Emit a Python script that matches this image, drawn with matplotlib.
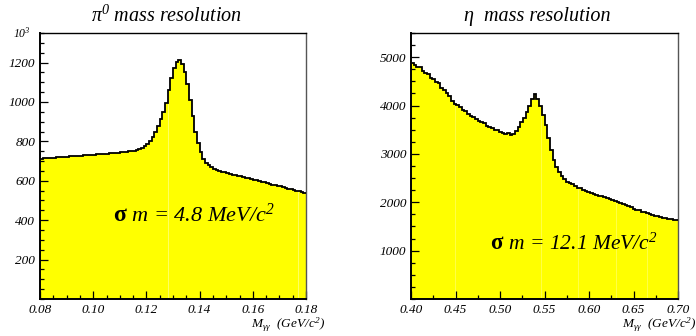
import numpy as np
import matplotlib
matplotlib.use("Agg")
import matplotlib.pyplot as plt
from matplotlib.ticker import MultipleLocator, FixedLocator

plt.rcParams['font.family'] = ['Liberation Serif', 'DejaVu Serif']
plt.rcParams['mathtext.fontset'] = 'custom'
plt.rcParams['mathtext.rm'] = 'Liberation Serif:italic'
plt.rcParams['mathtext.it'] = 'Liberation Serif:italic'

# ---- pi0 histogram (0.08 - 0.18 GeV, 100 bins) ----
pi0_edges_range = (0.08, 0.18)
pi0_counts = [
    713, 714, 715, 716, 717, 718, 719, 720, 721, 722,
    723, 724, 725, 726, 727, 728, 729, 730, 731, 732,
    733, 734, 735, 736, 737, 738, 739, 740, 741, 742,
    744, 745, 747, 749, 751, 753, 756, 760, 766, 774,
    785, 800, 820, 850, 880, 912, 950, 995, 1060, 1120,
    1170, 1205, 1215, 1195, 1150, 1090, 1010, 930, 850, 790,
    745, 712, 692, 678, 668, 661, 656, 652, 647, 643,
    639, 635, 631, 628, 625, 622, 619, 616, 612, 609,
    605, 602, 598, 595, 592, 588, 585, 581, 578, 574,
    571, 567, 564, 560, 557, 553, 550, 546, 543, 540,
]

# ---- eta histogram (0.40 - 0.70 GeV, 100 bins) ----
eta_edges_range = (0.40, 0.70)
eta_counts = [
    4880, 4840, 4800, 4790, 4720, 4680, 4650, 4560, 4540, 4490,
    4460, 4370, 4330, 4250, 4200, 4100, 4040, 4010, 3960, 3900,
    3880, 3830, 3790, 3760, 3720, 3690, 3650, 3640, 3580, 3560,
    3540, 3500, 3490, 3460, 3440, 3420, 3430, 3390, 3420, 3480,
    3560, 3650, 3740, 3860, 4000, 4140, 4230, 4130, 4000, 3800,
    3600, 3330, 3080, 2880, 2720, 2620, 2540, 2480, 2420, 2390,
    2370, 2340, 2300, 2290, 2260, 2230, 2220, 2190, 2170, 2160,
    2140, 2120, 2110, 2080, 2060, 2040, 2020, 2010, 1980, 1970,
    1950, 1920, 1900, 1870, 1850, 1830, 1800, 1790, 1770, 1750,
    1730, 1720, 1710, 1690, 1680, 1670, 1660, 1650, 1640, 1630,
]

pi0_title = "\u03c0$^{0}$ mass resolution"
eta_title = "\u03b7  mass resolution"
pi0_note = " m = 4.8 MeV/c$^2$"
eta_note = " m = 12.1 MeV/c$^2$"
sigma_sym = "\u03c3"
xlabel_text = "M$_{\u03b3\u03b3}$  (GeV/c$^2$)"

pi0_yticks = [200, 400, 600, 800, 1000, 1200]
eta_yticks = [1000, 2000, 3000, 4000, 5000]
pi0_xticks = [0.08, 0.10, 0.12, 0.14, 0.16, 0.18]
eta_xticks = [0.40, 0.45, 0.50, 0.55, 0.60, 0.65, 0.70]

fig = plt.figure(figsize=(6.96, 3.36), dpi=100)
W, H = 696, 336

def px_axes(l, r, t, b):
    return fig.add_axes([l / W, (H - b) / H, (r - l) / W, (b - t) / H])

ax1 = px_axes(40, 306, 33, 299)
ax2 = px_axes(411, 678, 33, 299)

def draw_hist(ax, counts, rng):
    n = len(counts)
    edges = np.linspace(rng[0], rng[1], n + 1)
    c = np.asarray(counts, dtype=float)
    ax.stairs(c, edges, fill=True, color='#ffff00', zorder=1)
    ax.stairs(c, edges, color='black', linewidth=1.3, zorder=3, baseline=None)
    return edges

draw_hist(ax1, pi0_counts, pi0_edges_range)
draw_hist(ax2, eta_counts, eta_edges_range)

# faint white rendering seams visible in the fill
for xv in [0.1281, 0.177]:
    ax1.axvline(xv, color='white', lw=0.5, alpha=0.55, zorder=2)
for xv in [0.449, 0.546, 0.588, 0.630, 0.665]:
    ax2.axvline(xv, color='white', lw=0.5, alpha=0.4, zorder=2)

ax1.set_xlim(*pi0_edges_range)
ax1.set_ylim(0, 1350)
ax2.set_xlim(*eta_edges_range)
ax2.set_ylim(0, 5500)

for ax, xt, yt, xminor, yminor in [
    (ax1, pi0_xticks, pi0_yticks, 0.005, 50),
    (ax2, eta_xticks, eta_yticks, 0.025, 250),
]:
    ax.xaxis.set_major_locator(FixedLocator(xt))
    ax.yaxis.set_major_locator(FixedLocator(yt))
    ax.xaxis.set_minor_locator(MultipleLocator(xminor))
    ax.yaxis.set_minor_locator(MultipleLocator(yminor))
    ax.tick_params(which='both', direction='in', top=False, right=False,
                   labelsize=9.5, width=0.9)
    ax.tick_params(which='major', length=6)
    ax.tick_params(which='minor', length=3)
    for s in ax.spines.values():
        s.set_linewidth(1.0)
    ax.spines['left'].set_linewidth(1.4)
    ax.spines['bottom'].set_linewidth(1.4)
    ax.spines['right'].set_color('#555555')

ax1.set_xticklabels([f"{v:.2f}" for v in pi0_xticks], fontstyle='italic')
ax1.set_yticklabels([str(v) for v in pi0_yticks], fontstyle='italic')
ax2.set_xticklabels([f"{v:.2f}" for v in eta_xticks], fontstyle='italic')
ax2.set_yticklabels([str(v) for v in eta_yticks], fontstyle='italic')

# titles
fig.text(166 / W, 1 - 16 / H, pi0_title, ha='center', va='center',
         fontsize=14.5, fontstyle='italic')
fig.text(537 / W, 1 - 16 / H, eta_title, ha='center', va='center',
         fontsize=14.5, fontstyle='italic')

# exponent label
fig.text(22 / W, 1 - 33 / H, "10$^3$", ha='center', va='center',
         fontsize=8.5, fontstyle='italic')

# annotations: upright sigma followed by italic text
def note(ax, x, y, txt, fs):
    t = ax.text(x, y, sigma_sym, ha='left', va='center', fontsize=fs + 1,
                fontweight='bold', zorder=5)
    ax.annotate(txt, xy=(1.0, 0.5), xycoords=t, ha='left', va='center',
                fontsize=fs, fontstyle='italic', zorder=5)

note(ax1, 0.1074, 423, pi0_note, 16)
note(ax2, 0.489, 1142, eta_note, 15.5)

# x labels
fig.text(325 / W, 1 - 325 / H, xlabel_text, ha='right', va='center',
         fontsize=9.5, fontstyle='italic')
fig.text(696 / W, 1 - 325 / H, xlabel_text, ha='right', va='center',
         fontsize=9.5, fontstyle='italic')

fig.savefig("out.png", dpi=100)
